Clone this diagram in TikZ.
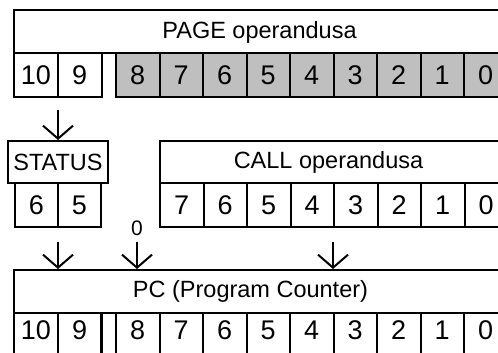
\documentclass[tikz,border=0pt]{standalone}
\usepackage{fontspec}
\setmainfont{Liberation Sans}
\usetikzlibrary{arrows.meta}
\tikzset{
  reg/.style={draw, line width=2pt, inner sep=0pt, minimum height=43pt},
  bitcell/.style={reg, minimum width=43.5pt, minimum height=44pt, font=\fontsize{27}{30}\selectfont},
  shaded/.style={bitcell, fill=black!25},
  regname/.style={inner sep=0pt, font=\fontsize{23.5}{28}\selectfont},
  feed/.style={line width=2pt, -{Straight Barb[length=13pt,width=30pt,line width=2pt]}}
}
\begin{document}
\begin{tikzpicture}[x=1pt,y=1pt]
\useasboundingbox (0,0) rectangle (498,353);
\clip (0,0) rectangle (498,353);

% PAGE operand register
\node[reg, minimum width=493.5pt] (page) at (260.75,321) {};
\node[regname] (pagetxt) at (259.5,321) {PAGE operandusa};
\node[bitcell] (p10) at (36,278) {10};
\node[bitcell] (p9) at (79.75,278) {9};
\foreach \b in {0,...,8}
  \node[shaded] (p\b) at ({137.75+(8-\b)*43.5},278) {\b};

% STATUS register, bits 6 and 5
\node[reg, minimum width=100pt, minimum height=42pt, font=\fontsize{23.5}{28}\selectfont] (status) at (58,191) {STATUS};
\node[bitcell, minimum width=43pt] (s6) at (36.5,148) {6};
\node[bitcell, minimum width=43pt] (s5) at (79.5,148) {5};

% CALL operand register
\node[reg, minimum width=347.5pt, minimum height=42pt] (call) at (333.75,191) {};
\node[regname] (calltxt) at (328.5,191) {CALL operandusa};
\foreach \b in {0,...,7}
  \node[bitcell] (c\b) at ({181.75+(7-\b)*43.5},148) {\b};

% constant zero fed into PC bit 8
\node[inner sep=0pt, font=\fontsize{21}{24}\selectfont] (zero) at (137,125) {0};

% Program counter
\node[reg, minimum width=493.5pt] (pc) at (260.75,61.5) {};
\node[regname] (pctxt) at (250.5,62) {PC (Program Counter)};
\node[bitcell, minimum height=50pt] (q10) at (36,15) {};
\node[bitcell, minimum height=50pt] (q9) at (79.75,15) {};
\node[bitcell, minimum width=15pt, minimum height=50pt] (qgap) at (108.5,15) {};
\foreach \b in {0,...,8}
  \node[bitcell, minimum height=50pt] (q\b) at ({137.75+(8-\b)*43.5},15) {};
\foreach \b in {10,9,8,7,6,5,4,3,2,1,0}
  \node[inner sep=0pt, font=\fontsize{27}{30}\selectfont] (qt\b) at ([yshift=8pt]q\b.center) {\b};

% data paths
\coordinate (f1) at (58,243);
\coordinate (f2) at (58,111);
\coordinate (f3) at (137,111);
\coordinate (f4) at (333,111);
\draw[feed] (f1) -- (status.north);
\draw[feed] (f2) -- (f2 |- pc.north);
\draw[feed] (f3) -- (f3 |- pc.north);
\draw[feed] (f4) -- (f4 |- pc.north);
\end{tikzpicture}
\end{document}
